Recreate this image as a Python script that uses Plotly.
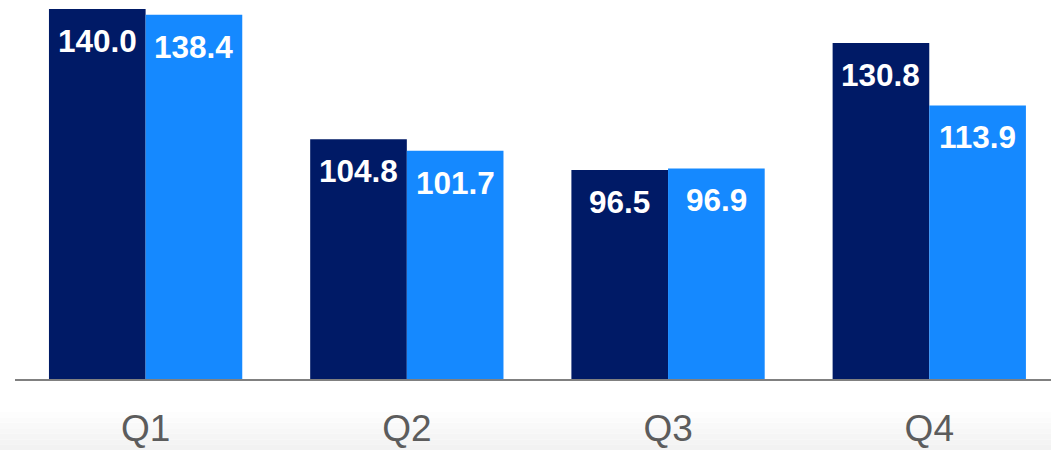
import plotly.graph_objects as go

quarters = ["Q1", "Q2", "Q3", "Q4"]
series_a = [140.0, 104.8, 96.5, 130.8]
series_b = [138.4, 101.7, 96.9, 113.9]

DARK = "#001A66"
LIGHT = "#1589FF"
BAR_W = 0.37

fig = go.Figure()
fig.add_bar(x=quarters, y=series_a, marker_color=DARK, width=BAR_W, offset=-BAR_W,
            marker_line_width=0, name="A")
fig.add_bar(x=quarters, y=series_b, marker_color=LIGHT, width=BAR_W, offset=0,
            marker_line_width=0, name="B")

# value labels inside the bars, a bit below the top edge
for i, (a, b) in enumerate(zip(series_a, series_b)):
    for xpos, val in ((i - BAR_W / 2, a), (i + BAR_W / 2, b)):
        fig.add_annotation(x=xpos, y=val, text=f"{val:.1f}", showarrow=False,
                           yshift=-32, yanchor="middle",
                           font=dict(family="Liberation Sans, Arial", size=31.5,
                                     color="white", weight="bold"))

# soft grey fade along the bottom edge
shades = ["#fdfdfd", "#fbfbfb", "#f9f9f9", "#f7f7f7", "#f5f5f5", "#f4f4f4", "#f2f2f2"]
band = 38 / len(shades)
for k, c in enumerate(shades):
    fig.add_shape(type="rect", xref="paper", yref="paper", layer="below",
                  x0=-0.02, x1=1.02,
                  y0=-(412 + k * band - 379) / 379,
                  y1=-(412 + (k + 1) * band - 379) / 379,
                  fillcolor=c, line_width=0)

fig.update_layout(
    width=1051, height=450,
    margin=dict(l=15, r=0, t=0, b=71),
    paper_bgcolor="white", plot_bgcolor="white",
    showlegend=False, barmode="overlay",
    font=dict(family="Liberation Sans, Arial"),
)
fig.update_xaxes(type="category", range=[-0.5, 3.466], showgrid=False,
                 showline=True, linecolor="#808080", linewidth=2,
                 ticks="outside", ticklen=16, tickcolor="rgba(0,0,0,0)",
                 tickfont=dict(size=37, color="#5c5c5c"))
fig.update_yaxes(range=[40, 142.4], visible=False, showgrid=False)

fig.write_html("out.html", config={"displayModeBar": False},
               post_script="document.body.style.margin='0';")
